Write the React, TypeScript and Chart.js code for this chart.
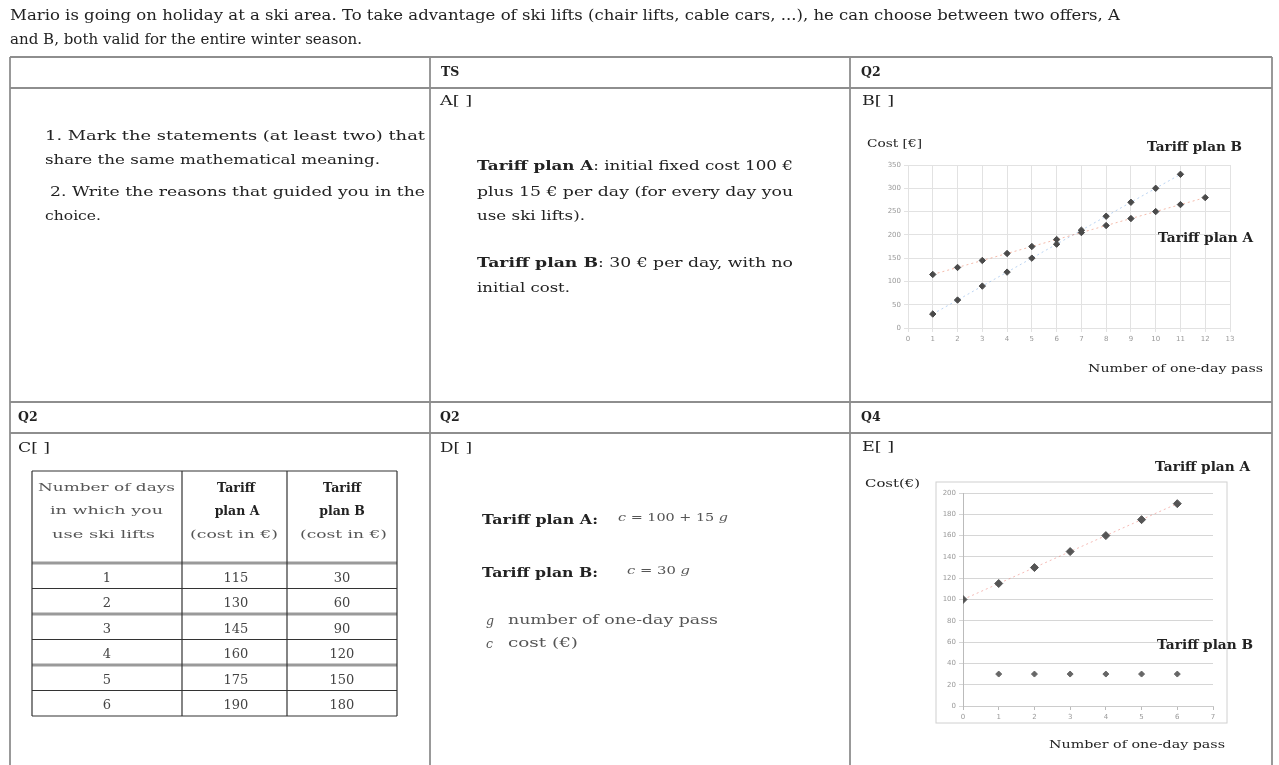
import React, { useEffect, useRef } from "react";
import { Chart, registerables } from "chart.js";
Chart.register(...registerables);

// ---- Chart B (top right): cost vs number of one-day passes ----
const bDaysA = [1, 2, 3, 4, 5, 6, 7, 8, 9, 10, 11, 12];
const bCostA = [115, 130, 145, 160, 175, 190, 205, 220, 235, 250, 265, 280];
const bDaysB = [1, 2, 3, 4, 5, 6, 7, 8, 9, 10, 11];
const bCostB = [30, 60, 90, 120, 150, 180, 210, 240, 270, 300, 330];
const bXTicks = [0, 1, 2, 3, 4, 5, 6, 7, 8, 9, 10, 11, 12, 13];
const bYTicks = [0, 50, 100, 150, 200, 250, 300, 350];

// ---- Chart E (bottom right) ----
const eDaysA = [0, 1, 2, 3, 4, 5, 6];
const eCostA = [100, 115, 130, 145, 160, 175, 190];
const eDaysB = [1, 2, 3, 4, 5, 6];
const eCostB = [30, 30, 30, 30, 30, 30];
const eXTicks = [0, 1, 2, 3, 4, 5, 6, 7];
const eYTicks = [0, 20, 40, 60, 80, 100, 120, 140, 160, 180, 200];

// ---- Table C ----
const tableDays = [1, 2, 3, 4, 5, 6];
const tableCostA = [115, 130, 145, 160, 175, 190];
const tableCostB = [30, 60, 90, 120, 150, 180];

const SERIF = "'DejaVu Serif', 'Liberation Serif', serif";
const INK = "#222";

type TxProps = {
  x: number; y: number; w?: number; size: number; bold?: boolean; italic?: boolean;
  anchor?: "start" | "middle" | "end"; fill?: string; children: React.ReactNode;
};
function Tx({ x, y, w, size, bold, italic, anchor, fill, children }: TxProps) {
  const extra: any = w ? { textLength: w, lengthAdjust: "spacingAndGlyphs" } : {};
  return (
    <text x={x} y={y + size * 0.36} fontSize={size} fontFamily={SERIF}
      fontWeight={bold ? 700 : 400} fontStyle={italic ? "italic" : "normal"}
      textAnchor={anchor || "start"} fill={fill || INK} {...extra}>{children}</text>
  );
}

function pts(xs: number[], ys: number[]) {
  return xs.map((x, i) => ({ x, y: ys[i] }));
}

function ScatterCanvas({ left, top, width, height, make }: any) {
  const ref = useRef<HTMLCanvasElement>(null);
  useEffect(() => {
    const c = make(ref.current!);
    return () => c.destroy();
  }, []);
  return (
    <canvas ref={ref} width={width} height={height}
      style={{ position: "absolute", left, top, width, height }} />
  );
}

const tickFont = { size: 7, family: "'DejaVu Sans', sans-serif" };

function makeChartB(canvas: HTMLCanvasElement) {
  return new Chart(canvas, {
    type: "scatter",
    data: {
      datasets: [
        {
          label: "Tariff plan A", data: pts(bDaysA, bCostA), showLine: true,
          borderColor: "rgba(235,130,100,0.55)", borderDash: [2, 3], borderWidth: 1,
          pointStyle: "rectRot", pointRadius: 3.2, pointBackgroundColor: "#4a4a4a", pointBorderColor: "#4a4a4a",
        },
        {
          label: "Tariff plan B", data: pts(bDaysB, bCostB), showLine: true,
          borderColor: "rgba(120,170,230,0.5)", borderDash: [2, 3], borderWidth: 1,
          pointStyle: "rectRot", pointRadius: 3.2, pointBackgroundColor: "#4a4a4a", pointBorderColor: "#4a4a4a",
        },
      ],
    },
    options: {
      responsive: false, animation: false, maintainAspectRatio: false,
      layout: { padding: { left: 0, right: 10, top: 10, bottom: 0 } },
      plugins: { legend: { display: false }, tooltip: { enabled: false } },
      scales: {
        x: {
          type: "linear", min: 0, max: 13,
          afterBuildTicks: (s: any) => { s.ticks = bXTicks.map((v) => ({ value: v })); },
          afterFit: (s: any) => { s.height = 20; },
          ticks: { font: tickFont, color: "#999" },
          grid: { color: "#e2e2e2", tickLength: 4 },
          border: { display: false },
        },
        y: {
          min: 0, max: 350,
          afterBuildTicks: (s: any) => { s.ticks = bYTicks.map((v) => ({ value: v })); },
          afterFit: (s: any) => { s.width = 38; },
          ticks: { font: tickFont, color: "#999" },
          grid: { color: "#e2e2e2", tickLength: 4 },
          border: { display: false },
        },
      },
    },
  } as any);
}

function makeChartE(canvas: HTMLCanvasElement) {
  return new Chart(canvas, {
    type: "scatter",
    data: {
      datasets: [
        {
          label: "Tariff plan A", data: pts(eDaysA, eCostA), showLine: true,
          borderColor: "rgba(235,120,110,0.5)", borderDash: [2, 3], borderWidth: 1,
          pointStyle: "rectRot", pointRadius: 4, pointBackgroundColor: "#555", pointBorderColor: "#555",
        },
        {
          label: "Tariff plan B", data: pts(eDaysB, eCostB), showLine: false,
          pointStyle: "rectRot", pointRadius: 3, pointBackgroundColor: "#666", pointBorderColor: "#666",
        },
      ],
    },
    options: {
      responsive: false, animation: false, maintainAspectRatio: false,
      layout: { padding: { left: 0, right: 12, top: 10, bottom: 0 } },
      plugins: { legend: { display: false }, tooltip: { enabled: false } },
      scales: {
        x: {
          type: "linear", min: 0, max: 7,
          afterBuildTicks: (s: any) => { s.ticks = eXTicks.map((v) => ({ value: v })); },
          afterFit: (s: any) => { s.height = 20; },
          ticks: { font: tickFont, color: "#999" },
          grid: { display: true, drawOnChartArea: false, color: "#bbb", tickLength: 4 },
          border: { display: true, color: "#ccc" },
        },
        y: {
          min: 0, max: 200,
          afterBuildTicks: (s: any) => { s.ticks = eYTicks.map((v) => ({ value: v })); },
          afterFit: (s: any) => { s.width = 38; },
          ticks: { font: tickFont, color: "#999" },
          grid: { color: "#d6d6d6", tickLength: 4 },
          border: { display: true, color: "#bbb" },
        },
      },
    },
  } as any);
}

export default function App() {
  const gridStroke = "#8e8e8e";
  const colX = [32, 182, 287, 397];
  const tTop = 471, tHead = 563, rowH = 25.5;
  return (
    <div style={{ position: "absolute", left: 0, top: 0, width: 1279, height: 765, background: "#fff", overflow: "hidden" }}>
      <ScatterCanvas left={870} top={155} width={370} height={193} make={makeChartB} />
      <ScatterCanvas left={925} top={483} width={300} height={243} make={makeChartE} />
      <svg width={1279} height={765} style={{ position: "absolute", left: 0, top: 0, pointerEvents: "none" }}>
        {/* intro text */}
        <Tx x={10} y={15} w={1110} size={14.5}>Mario is going on holiday at a ski area. To take advantage of ski lifts (chair lifts, cable cars, ...), he can choose between two offers, A</Tx>
        <Tx x={10} y={39} w={352} size={14.5}>and B, both valid for the entire winter season.</Tx>

        {/* main grid */}
        <g stroke={gridStroke} strokeWidth={1.8}>
          <line x1={10} y1={57} x2={1272} y2={57} />
          <line x1={10} y1={88} x2={1272} y2={88} />
          <line x1={10} y1={402} x2={1272} y2={402} />
          <line x1={10} y1={433} x2={1272} y2={433} />
          <line x1={10} y1={57} x2={10} y2={765} />
          <line x1={430} y1={57} x2={430} y2={765} />
          <line x1={850} y1={57} x2={850} y2={765} />
          <line x1={1272} y1={57} x2={1272} y2={765} />
        </g>

        {/* headers */}
        <Tx x={441} y={71} size={12.5} bold>TS</Tx>
        <Tx x={861} y={71} size={12.5} bold>Q2</Tx>
        <Tx x={18} y={416} size={12.5} bold>Q2</Tx>
        <Tx x={440} y={416} size={12.5} bold>Q2</Tx>
        <Tx x={861} y={416} size={12.5} bold>Q4</Tx>

        <Tx x={440} y={100} w={32} size={13.5}>A[ ]</Tx>
        <Tx x={862} y={100} w={32} size={13.5}>B[ ]</Tx>
        <Tx x={18} y={447} w={32} size={13.5}>C[ ]</Tx>
        <Tx x={440} y={447} w={32} size={13.5}>D[ ]</Tx>
        <Tx x={862} y={446} w={32} size={13.5}>E[ ]</Tx>

        {/* cell 1 */}
        <Tx x={45} y={135} w={380} size={13.5}>1.  Mark the statements (at least two) that</Tx>
        <Tx x={45} y={159} w={335} size={13.5}>share the same mathematical meaning.</Tx>
        <Tx x={50} y={191} w={375} size={13.5}>2. Write the reasons that guided you in the</Tx>
        <Tx x={45} y={215} w={56} size={13.5}>choice.</Tx>

        {/* cell A */}
        <Tx x={477} y={165} w={316} size={13.5}><tspan fontWeight={700}>Tariff plan A</tspan>: initial fixed cost 100 €</Tx>
        <Tx x={477} y={191} w={316} size={13.5}>plus 15 € per day (for every day you</Tx>
        <Tx x={477} y={215} w={108} size={13.5}>use ski lifts).</Tx>
        <Tx x={477} y={262} w={316} size={13.5}><tspan fontWeight={700}>Tariff plan B</tspan>: 30 € per day, with no</Tx>
        <Tx x={477} y={287} w={93} size={13.5}>initial cost.</Tx>

        {/* cell B chart labels */}
        <Tx x={867} y={143} w={55} size={10.5}>Cost [€]</Tx>
        <Tx x={1147} y={146} w={95} size={12.5} bold>Tariff plan B</Tx>
        <Tx x={1158} y={237} w={95} size={12.5} bold>Tariff plan A</Tx>
        <Tx x={1088} y={368} w={175} size={11.5}>Number of one-day pass</Tx>

        {/* cell C table */}
        <g stroke="#333" strokeWidth={1.2}>
          <line x1={colX[0]} y1={tTop} x2={colX[3]} y2={tTop} />
          {tableDays.map((_, i) => (
            <line key={"h" + i} x1={colX[0]} y1={tHead + i * rowH} x2={colX[3]} y2={tHead + i * rowH}
              stroke={i % 2 === 0 ? "#9a9a9a" : "#333"} strokeWidth={i % 2 === 0 ? 3 : 1.2} />
          ))}
          <line x1={colX[0]} y1={tHead + 6 * rowH} x2={colX[3]} y2={tHead + 6 * rowH} />
          {colX.map((x, i) => (
            <line key={"v" + i} x1={x} y1={tTop} x2={x} y2={tHead + 6 * rowH} />
          ))}
        </g>
        <Tx x={38} y={487} w={137} size={11.5} fill="#555">Number of days</Tx>
        <Tx x={50} y={510} w={113} size={11.5} fill="#555">in which you</Tx>
        <Tx x={52} y={534} w={103} size={11.5} fill="#555">use ski lifts</Tx>
        <Tx x={236} y={487} size={12.5} anchor="middle" bold>Tariff</Tx>
        <Tx x={237} y={510} size={12.5} anchor="middle" bold>plan A</Tx>
        <Tx x={190} y={534} w={88} size={11} fill="#555">(cost in €)</Tx>
        <Tx x={342} y={487} size={12.5} anchor="middle" bold>Tariff</Tx>
        <Tx x={342} y={510} size={12.5} anchor="middle" bold>plan B</Tx>
        <Tx x={300} y={534} w={87} size={11} fill="#555">(cost in €)</Tx>
        {tableDays.map((d, i) => (
          <g key={"r" + i}>
            <Tx x={107} y={tHead + i * rowH + 14} size={13} anchor="middle" fill="#444">{String(d)}</Tx>
            <Tx x={236} y={tHead + i * rowH + 14} size={13} anchor="middle" fill="#444">{String(tableCostA[i])}</Tx>
            <Tx x={342} y={tHead + i * rowH + 14} size={13} anchor="middle" fill="#444">{String(tableCostB[i])}</Tx>
          </g>
        ))}

        {/* cell D */}
        <Tx x={482} y={519} w={116} size={13.5} bold>Tariff plan A:</Tx>
        <Tx x={618} y={517} w={110} size={11} fill="#555"><tspan fontStyle="italic">c</tspan> = 100 + 15 <tspan fontStyle="italic">g</tspan></Tx>
        <Tx x={482} y={572} w={116} size={13.5} bold>Tariff plan B:</Tx>
        <Tx x={627} y={570} w={63} size={11} fill="#555"><tspan fontStyle="italic">c</tspan> = 30 <tspan fontStyle="italic">g</tspan></Tx>
        <Tx x={486} y={620} size={12.5} italic fill="#555">g</Tx>
        <Tx x={508} y={620} w={210} size={12} fill="#555">number of one-day pass</Tx>
        <Tx x={486} y={643} size={12.5} italic fill="#555">c</Tx>
        <Tx x={508} y={643} w={70} size={12} fill="#555">cost (€)</Tx>

        {/* cell E chart labels */}
        <rect x={936} y={482} width={291} height={241} fill="none" stroke="#d0d0d0" strokeWidth={1} />
        <Tx x={865} y={483} w={55} size={10.5}>Cost(€)</Tx>
        <Tx x={1155} y={466} w={95} size={12.5} bold>Tariff plan A</Tx>
        <Tx x={1157} y={644} w={96} size={12.5} bold>Tariff plan B</Tx>
        <Tx x={1049} y={744} w={176} size={11.5}>Number of one-day pass</Tx>
      </svg>
    </div>
  );
}
